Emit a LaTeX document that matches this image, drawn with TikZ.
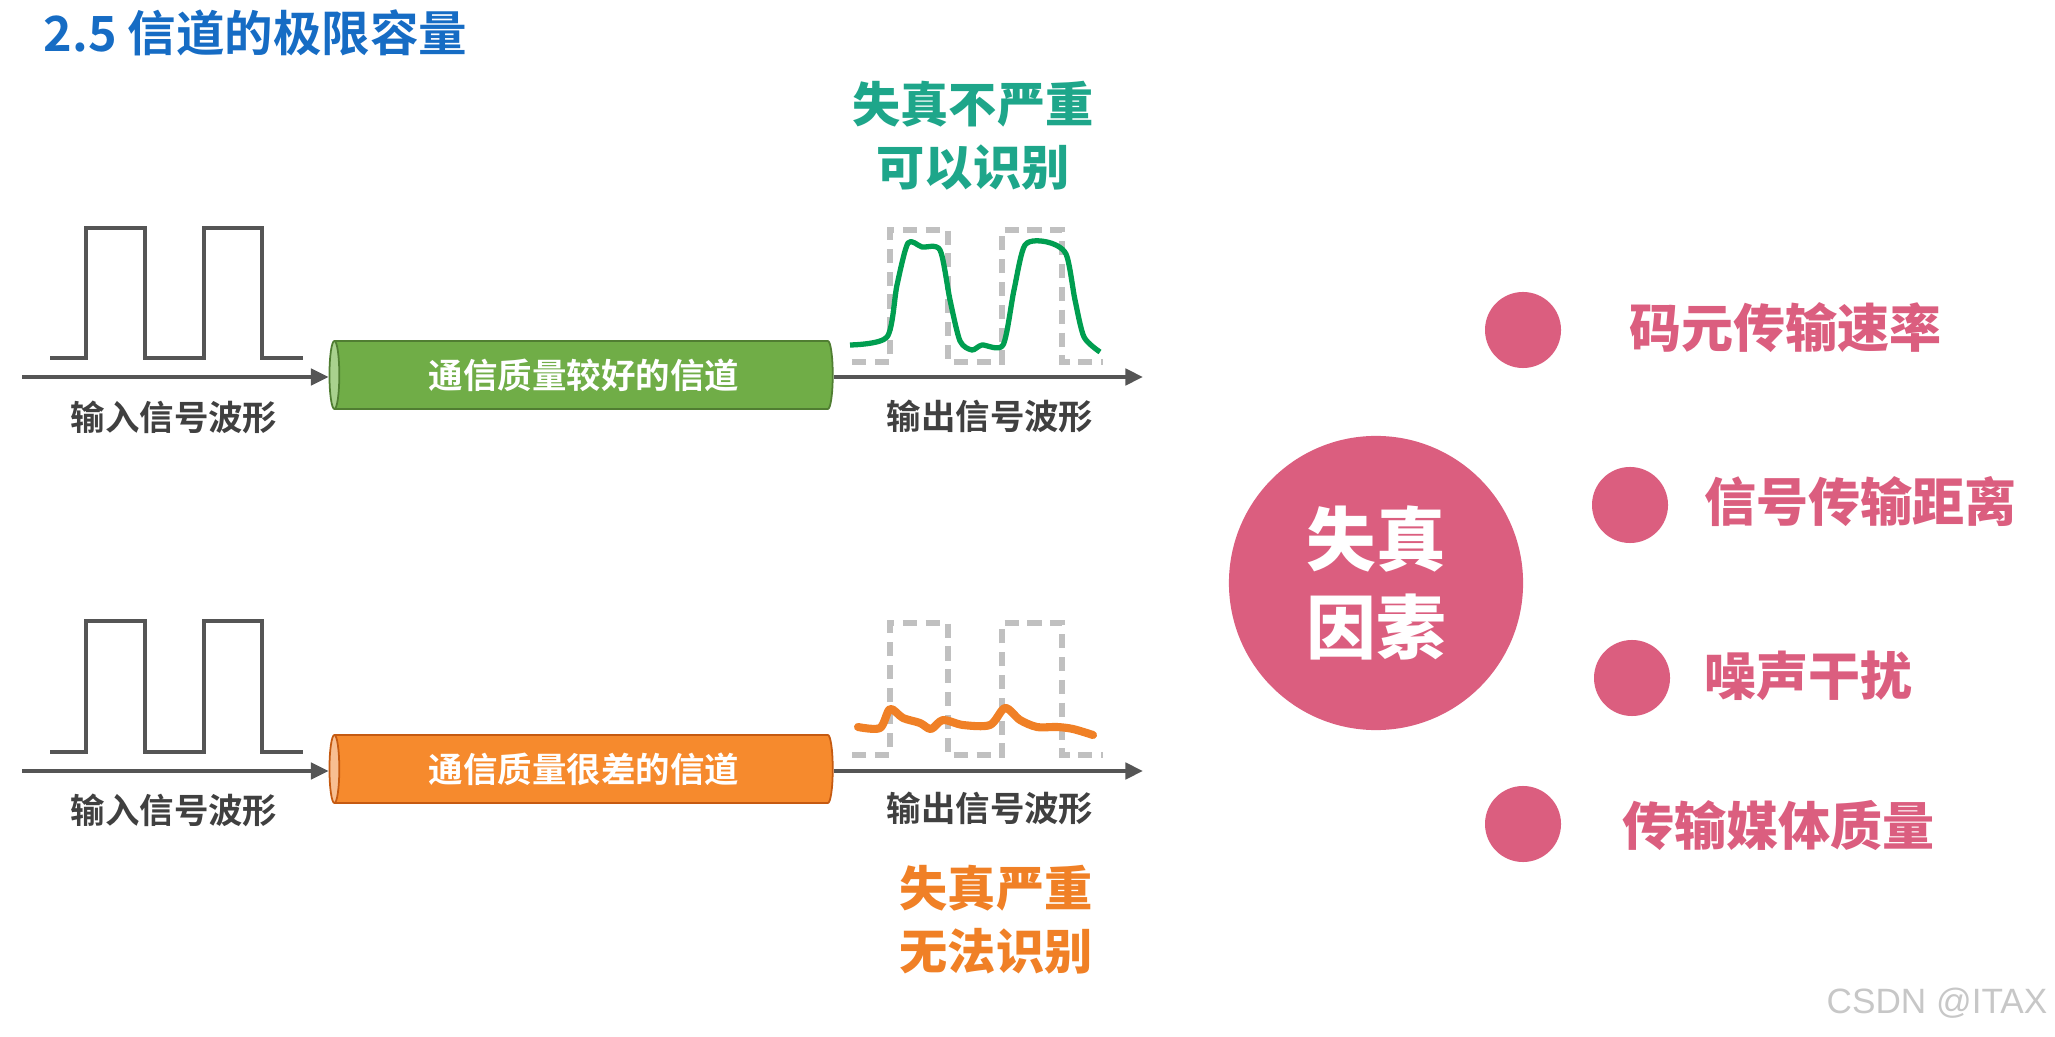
\documentclass[tikz,border=0pt]{standalone}
\usepackage{fontspec}
\setmainfont{Noto Sans CJK SC}[BoldFont={Noto Sans CJK SC Bold}]
\newfontfamily\heavyfont{Noto Sans CJK SC Black}
\setsansfont{Liberation Sans}
\usetikzlibrary{shapes.geometric,arrows.meta}

\definecolor{titleblue}{RGB}{22,108,196}
\definecolor{linegray}{RGB}{85,85,85}
\definecolor{labelgray}{RGB}{64,64,64}
\definecolor{dashgray}{RGB}{192,192,192}
\definecolor{goodgreen}{RGB}{112,173,71}
\definecolor{goodedge}{RGB}{80,126,50}
\definecolor{goodface}{RGB}{169,209,142}
\definecolor{curvegreen}{RGB}{0,158,80}
\definecolor{tealtext}{RGB}{30,166,138}
\definecolor{badorange}{RGB}{246,138,45}
\definecolor{badedge}{RGB}{197,90,17}
\definecolor{badface}{RGB}{248,190,145}
\definecolor{curveorange}{RGB}{240,128,38}
\definecolor{factpink}{RGB}{219,94,127}

\begin{document}
\begin{tikzpicture}[x=0.01cm,y=-0.01cm,
	wave/.style={draw=linegray, line width=1.2pt},
	ghost/.style={draw=dashgray, line width=1.5pt, dash pattern=on 4pt off 2.5pt},
	feed/.style={draw=linegray, line width=1.1pt, -{Triangle[length=5pt,width=4.6pt]}},
	channel/.style={cylinder, shape border rotate=180, aspect=0.3, minimum height=5.03cm, minimum width=0.68cm,
		cylinder uses custom fill, line width=0.5pt, inner sep=0, text=white,
		font=\fontsize{9.8}{12}\selectfont\bfseries},
	wavelabel/.style={inner sep=0, text=labelgray, font=\fontsize{9.8}{12}\selectfont\bfseries},
	verdict/.style={inner sep=0, align=center, font=\fontsize{13.7}{18}\selectfont\heavyfont},
	bigdot/.style={circle, fill=factpink, inner sep=0, minimum size=0.76cm},
	factor/.style={anchor=west, inner sep=0, text=factpink, font=\fontsize{14.8}{18}\selectfont\heavyfont}]
	\useasboundingbox (0,0) rectangle (2055,1037);

	%Title
	\node[anchor=west, inner sep=0, text=titleblue, font=\fontsize{13.8}{16}\selectfont\bfseries] (title) at (43,33) {2.5 信道的极限容量};

	% Good channel
	\draw[wave] (50,358) -- (86,358) -- (86,228) -- (145,228) -- (145,358) -- (204,358) -- (204,228) -- (262,228) -- (262,358) -- (303,358);
	\node[channel, draw=goodedge, cylinder body fill=goodgreen, cylinder end fill=goodface] (goodch) at (584,375) {通信质量较好的信道};
	\coordinate (goodin) at (22,377);
	\coordinate (goodout) at (1143,377);
	\draw[feed] (goodin) -- (goodch.west |- goodin);
	\draw[feed] (goodch.east |- goodout) -- (goodout);
	\draw[ghost] (852,362) -- (890,362) -- (890,230) -- (948,230) -- (948,362) -- (1002,362) -- (1002,230) -- (1062,230) -- (1062,362) -- (1103,362);
	\draw[curvegreen, line width=1.5pt, line join=round] plot[smooth, tension=0.45] coordinates {(850,345) (887,337) (897,285) (908,243) (922,247) (940,250) (950,300) (960,341) (972,350) (982,345) (1003,345) (1014,290) (1025,245) (1047,242) (1066,254) (1075,300) (1084,337) (1100,352)};
	\node[wavelabel] (goodinlbl) at (174,417) {输入信号波形};
	\node[wavelabel] (goodoutlbl) at (990,416) {输出信号波形};
	\node[verdict, text=tealtext] (goodtxt) at (973,136) {失真不严重\\可以识别};

	% Bad channel
	\draw[wave] (50,752) -- (86,752) -- (86,621) -- (145,621) -- (145,752) -- (204,752) -- (204,621) -- (262,621) -- (262,752) -- (303,752);
	\node[channel, draw=badedge, cylinder body fill=badorange, cylinder end fill=badface] (badch) at (584,769) {通信质量很差的信道};
	\coordinate (badin) at (22,771);
	\coordinate (badout) at (1143,771);
	\draw[feed] (badin) -- (badch.west |- badin);
	\draw[feed] (badch.east |- badout) -- (badout);
	\draw[ghost] (852,755) -- (890,755) -- (890,623) -- (948,623) -- (948,755) -- (1002,755) -- (1002,623) -- (1062,623) -- (1062,755) -- (1103,755);
	\draw[curveorange, line width=2.3pt, line join=round, line cap=round] plot[smooth, tension=0.5] coordinates {(858,727) (880,728) (890,709) (903,718) (920,723) (931,729) (943,720) (963,725) (990,725) (1005,708) (1020,720) (1037,727) (1057,727) (1073,729) (1093,735)};
	\node[wavelabel] (badinlbl) at (174,810) {输入信号波形};
	\node[wavelabel] (badoutlbl) at (990,808) {输出信号波形};
	\node[verdict, text=curveorange] (badtxt) at (996,920) {失真严重\\无法识别};

	% Factors
	\node[circle, fill=factpink, inner sep=0, minimum size=2.94cm, align=center, text=white,
		font=\fontsize{19.8}{25}\selectfont\heavyfont] (cause) at (1376,583) {失真\\因素};
	\node[bigdot] (dota) at (1523,330) {};
	\node[bigdot] (dotb) at (1630,505) {};
	\node[bigdot] (dotc) at (1632,678) {};
	\node[bigdot] (dotd) at (1523,824) {};
	\node[factor] (facta) at (1629,328) {码元传输速率};
	\node[factor] (factb) at (1704,502) {信号传输距离};
	\node[factor] (factc) at (1704,676) {噪声干扰};
	\node[factor] (factd) at (1622,826) {传输媒体质量};

	%Watermark
	\node[inner sep=0, text=black!22, font=\sffamily\fontsize{10}{12}\selectfont] (mark) at (1937,1003) {CSDN @ITAX};
\end{tikzpicture}
\end{document}
